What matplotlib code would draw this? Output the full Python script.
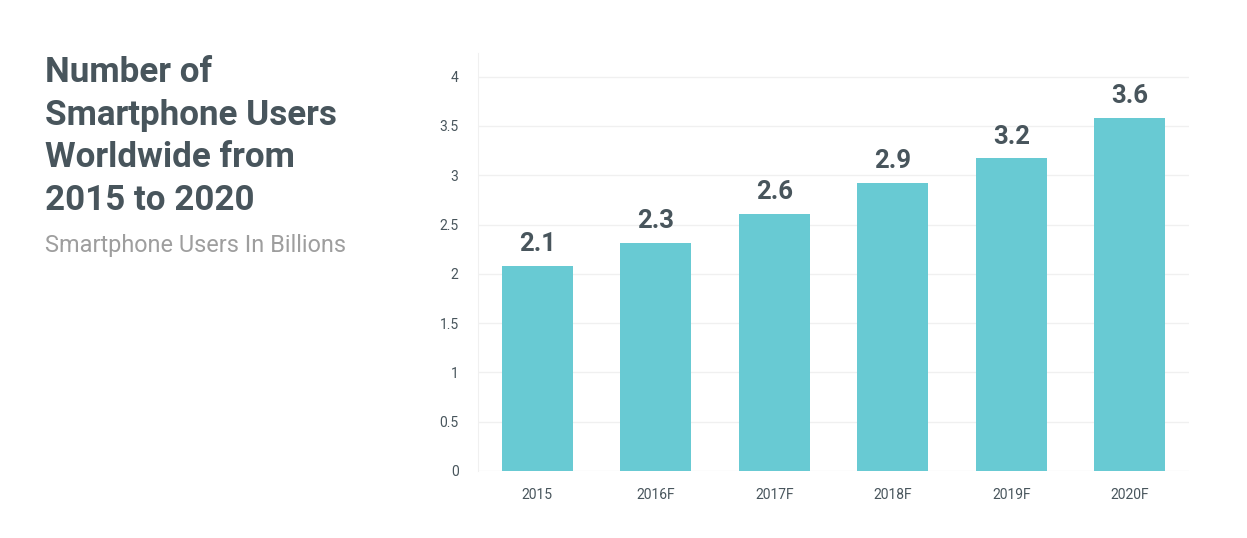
import matplotlib.pyplot as plt

# data
years = ['2015', '2016F', '2017F', '2018F', '2019F', '2020F']
users = [2.08, 2.31, 2.61, 2.92, 3.17, 3.58]
value_labels = ['2.1', '2.3', '2.6', '2.9', '3.2', '3.6']
y_ticks = [0, 0.5, 1, 1.5, 2, 2.5, 3, 3.5, 4]
y_tick_labels = ['0', '0.5', '1', '1.5', '2', '2.5', '3', '3.5', '4']

bar_color = '#68cad3'
dark = '#48555c'
grey = '#9e9e9e'

plt.rcParams['font.family'] = ['Roboto', 'DejaVu Sans']

fig = plt.figure(figsize=(12.47, 5.38), dpi=100)
W, H = 1247, 538
# axes: x 478..1189, y 53..471 (pixels)
ax = fig.add_axes([478 / W, 1 - 471 / H, (1189 - 478) / W, (471 - 53) / H])

x = range(len(years))
ax.bar(x, users, width=0.6, color=bar_color, zorder=3)
for i, (v, lab) in enumerate(zip(users, value_labels)):
    ax.text(i, v + 0.1, lab, ha='center', va='bottom', fontsize=18.5,
            fontweight='bold', color=dark)

ax.set_xlim(-0.5, 5.5)
ax.set_ylim(0, 4.24)
ax.set_xticks(list(x))
ax.set_xticklabels(years)
ax.set_yticks(y_ticks)
ax.set_yticklabels(y_tick_labels)
ax.tick_params(axis='both', length=0, labelsize=10, colors=dark)
ax.tick_params(axis='x', pad=12)
ax.tick_params(axis='y', pad=14)
ax.grid(axis='y', color='#f0f0f0', linewidth=1, zorder=0)
for side in ['top', 'right', 'bottom']:
    ax.spines[side].set_visible(False)
ax.spines['left'].set_color('#f0f0f0')

# title block on the left
title_lines = ['Number of', 'Smartphone Users', 'Worldwide from', '2015 to 2020']
for k, line in enumerate(title_lines):
    fig.text(45 / W, 1 - (82 + k * 42.5) / H, line, fontsize=25.2,
             fontweight='bold', color=dark, ha='left', va='baseline')
fig.text(45 / W, 1 - 252 / H, 'Smartphone Users In Billions', fontsize=16.9,
         color=grey, ha='left', va='baseline')

fig.savefig('out.png', dpi=100, facecolor='white')
